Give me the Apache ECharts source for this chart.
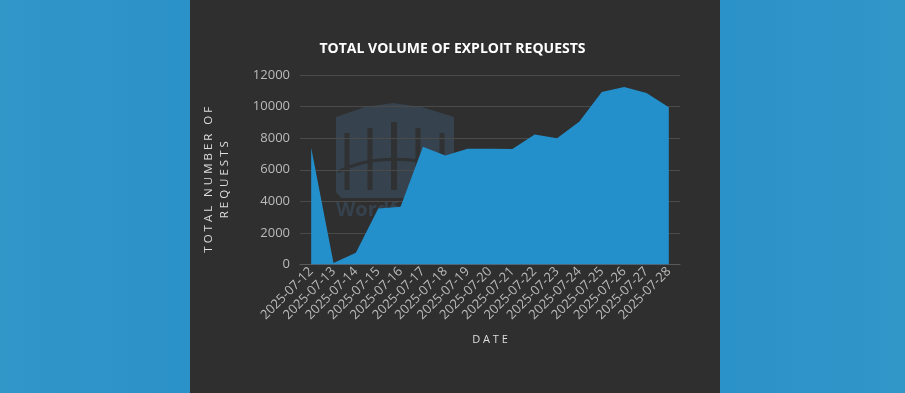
<!DOCTYPE html>
<html>
<head>
<meta charset="utf-8">
<script src="https://cdn.jsdelivr.net/npm/echarts@6/dist/echarts.min.js"></script>
<style>
html,body{margin:0;padding:0;background:#2d93c8;}
#main{width:905px;height:393px;}
</style>
</head>
<body>
<div id="main"></div>
<script>
const titleText = 'TOTAL VOLUME OF EXPLOIT REQUESTS';
const categories = ['2025-07-12','2025-07-13','2025-07-14','2025-07-15','2025-07-16','2025-07-17','2025-07-18','2025-07-19','2025-07-20','2025-07-21','2025-07-22','2025-07-23','2025-07-24','2025-07-25','2025-07-26','2025-07-27','2025-07-28'];
const requests = [7400, 100, 740, 3550, 3650, 7450, 6900, 7330, 7330, 7310, 8240, 8000, 9060, 10920, 11240, 10860, 9950];
const yTicks = [0, 2000, 4000, 6000, 8000, 10000, 12000];

const chart = echarts.init(document.getElementById('main'), null, {renderer:'canvas'});
const font = '"Open Sans", "Noto Sans", sans-serif';
const wm = '#36424d';
const wmDark = '#2f3133';
chart.setOption({
  backgroundColor: {
    type: 'linear', x: 0, y: 0, x2: 1, y2: 0,
    colorStops: [{offset: 0, color: '#3196c8'}, {offset: 0.2, color: '#2b92c9'}, {offset: 0.8, color: '#2b92c9'}, {offset: 1, color: '#3196c8'}]
  },
  animation: false,
  graphic: [
    {type: 'rect', z: -10, shape: {x: 190, y: 0, width: 530, height: 393}, style: {fill: '#2f2f2f'}},
    {type: 'polygon', z: -5, shape: {points: [[336,117],[365,107],[393,103],[422,107],[454,117],[454,192],[449,198],[341,198],[336,192]]}, style: {fill: wm}},
    {type: 'line', z: -4, shape: {x1: 347, y1: 133, x2: 347, y2: 190}, style: {stroke: wmDark, lineWidth: 5}},
    {type: 'line', z: -4, shape: {x1: 370, y1: 128, x2: 370, y2: 190}, style: {stroke: wmDark, lineWidth: 5}},
    {type: 'line', z: -4, shape: {x1: 394, y1: 122, x2: 394, y2: 190}, style: {stroke: wmDark, lineWidth: 6}},
    {type: 'line', z: -4, shape: {x1: 418, y1: 128, x2: 418, y2: 190}, style: {stroke: wmDark, lineWidth: 5}},
    {type: 'line', z: -4, shape: {x1: 442, y1: 133, x2: 442, y2: 190}, style: {stroke: wmDark, lineWidth: 5}},
    {type: 'bezierCurve', z: -4, shape: {x1: 338, y1: 172, x2: 452, y2: 172, cpx1: 370, cpy1: 155, cpx2: 420, cpy2: 155}, style: {stroke: wmDark, lineWidth: 3, fill: null}},
    {type: 'text', z: -5, left: 336, top: 200, style: {text: 'Wordfence', fill: wm, font: 'bold 20px ' + font}}
  ],
  title: {
    text: titleText,
    left: 'center',
    top: 37,
    textStyle: {color: '#ffffff', fontFamily: font, fontWeight: 'bold', fontSize: 14}
  },
  grid: {left: 300, right: 225, top: 75, bottom: 128.5, containLabel: false},
  xAxis: {
    type: 'category',
    data: categories,
    boundaryGap: true,
    name: 'D A T E',
    nameLocation: 'middle',
    nameGap: 70,
    nameTextStyle: {color: '#dddddd', fontFamily: font, fontSize: 11},
    axisLine: {show: true, lineStyle: {color: '#5a5a5a'}},
    axisTick: {show: false},
    axisLabel: {rotate: 45, color: '#bbbbbb', fontFamily: font, fontSize: 13, margin: 5, interval: 0}
  },
  yAxis: {
    type: 'value',
    min: yTicks[0],
    max: yTicks[yTicks.length - 1],
    interval: 2000,
    name: 'T O T A L   N U M B E R   O F\nR E Q U E S T S',
    nameLocation: 'middle',
    nameGap: 67,
    nameTextStyle: {color: '#dddddd', fontFamily: font, fontSize: 11.5, lineHeight: 16, padding: [0, 20, 0, 0]},
    axisLine: {show: false},
    axisTick: {show: false},
    splitLine: {lineStyle: {color: '#4a4a4a'}},
    axisLabel: {color: '#bbbbbb', fontFamily: font, fontSize: 13, margin: 10, formatter: function (v) { return String(v); }}
  },
  series: [{
    type: 'line',
    data: requests,
    symbol: 'none',
    lineStyle: {width: 0},
    areaStyle: {color: '#2390cc', opacity: 1}
  }]
});
</script>
</body>
</html>
